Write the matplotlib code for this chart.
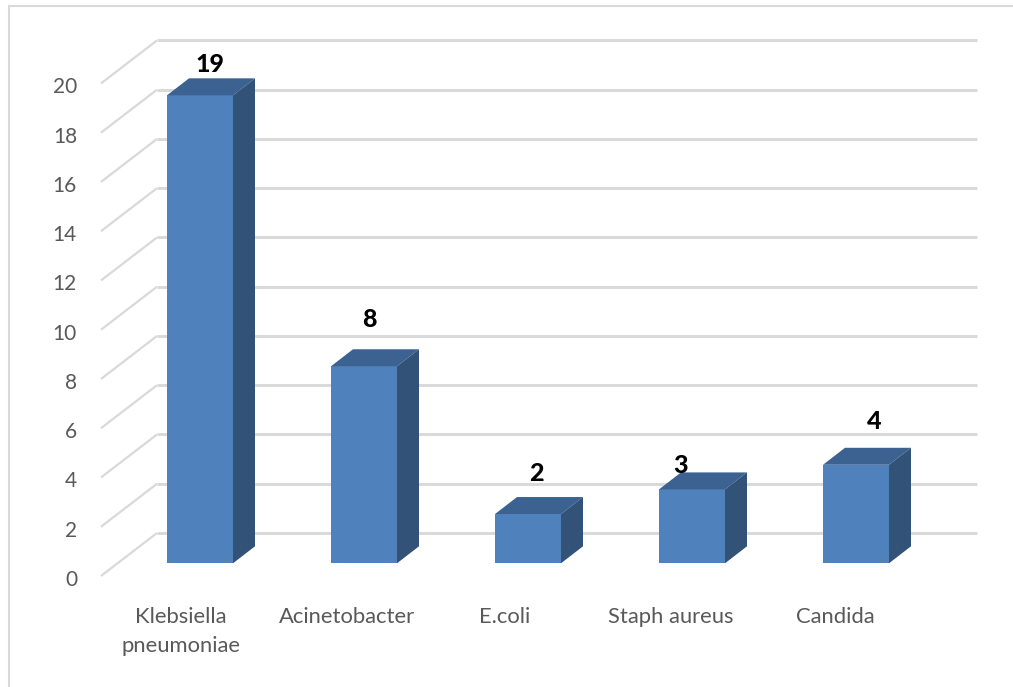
import matplotlib
matplotlib.use("Agg")
import matplotlib.pyplot as plt
import numpy as np

categories = ["Klebsiella\npneumoniae", "Acinetobacter", "E.coli", "Staph aureus", "Candida"]
counts = [19, 8, 2, 3, 4]
y_ticks = list(range(0, 21, 2))

# label nudges from the bar's top centre, in points
label_nudge = [(7, 22), (4, 34), (6, 29), (-8, 17), (13, 31)]
# category labels sit a little left of the bars, in px
name_shift = [19, 17, 23, 21, 21]

FRONT = "#4f81bd"
TOP = "#3c6291"
SIDE = "#325278"
GRID = "#d9d9d9"
TEXT = "#595959"

plt.rcParams["font.family"] = ["Lato", "DejaVu Sans"]

W, H = 1013, 687
fig = plt.figure(figsize=(W / 100, H / 100), dpi=100, facecolor="white")
ax = fig.add_axes([0, 0, 1, 1])
ax.axis("off")

# one category = 164 px, one count = 24.63 px, category 0 centred at x=200, count 0 at y=563
px_x, px_y = 164.0, 24.63
ax.set_xlim((0 - 200) / px_x, (W - 200) / px_x)
ax.set_ylim((563.3 - H) / px_y, 563.3 / px_y)

x = np.arange(len(categories))
bar_w = 66 / px_x
# depth of a bar's box
dx, dy = 22 / px_x, 17 / px_y
# wall corners relative to the bars' front plane
wall_front_x, wall_back_x = (101 - 200) / px_x, (157 - 200) / px_x
wall_right_x = (977 - 200) / px_x
wall_front_dy, wall_back_dy = -12.7 / px_y, 30.3 / px_y

# slanted floor and wall gridlines
for t in y_ticks:
    ax.plot([wall_front_x, wall_back_x], [t + wall_front_dy, t + wall_back_dy],
            color=GRID, lw=1.6, solid_capstyle="butt", zorder=1)
    ax.plot([wall_back_x, wall_right_x], [t + wall_back_dy, t + wall_back_dy],
            color=GRID, lw=2.1, solid_capstyle="butt", zorder=1)
    ax.text(wall_front_x - 24 / px_x, t + wall_front_dy - 4 / px_y, str(t), ha="right", va="center",
            fontsize=15, color=TEXT)

# bars: front face from ax.bar, then top and side faces
ax.bar(x, counts, width=bar_w, color=FRONT, zorder=3)
for xi, v in zip(x, counts):
    l, r = xi - bar_w / 2, xi + bar_w / 2
    ax.fill([l, r, r + dx, l + dx], [v, v, v + dy, v + dy], color=TOP, lw=0, zorder=3)
    ax.fill([r, r + dx, r + dx, r], [0, dy, v + dy, v], color=SIDE, lw=0, zorder=3)

for xi, v, nudge in zip(x, counts, label_nudge):
    ax.annotate(str(v), (xi, v), xytext=nudge, textcoords="offset points", ha="center", va="center",
                fontsize=18, fontweight="black", color="black", zorder=5)

for xi, name, shift in zip(x, categories, name_shift):
    ax.text(xi - shift / px_x, -44 / px_y, name, ha="center", va="top", fontsize=15.8, color=TEXT,
            linespacing=1.55)

# chart border, top and left edges only
ax.plot([1.0, 9 / W, 9 / W], [1 - 5.5 / H, 1 - 5.5 / H, 0], transform=ax.transAxes,
        color=GRID, lw=1.5, solid_joinstyle="miter", clip_on=False, zorder=0)

fig.savefig("out.png", dpi=100, facecolor="white")
